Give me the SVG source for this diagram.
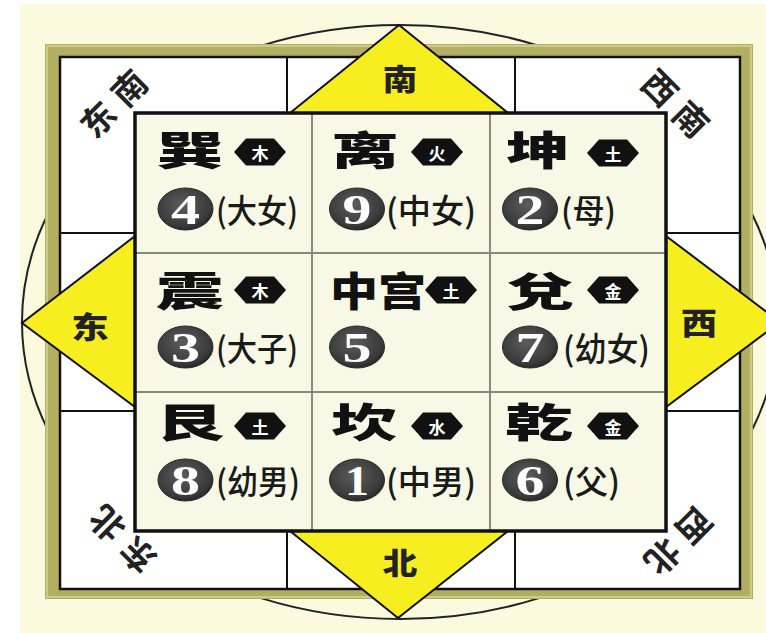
<svg xmlns="http://www.w3.org/2000/svg" width="766" height="633" viewBox="0 0 766 633">
<defs>
<style>
.big{font-family:"Noto Sans CJK SC","Noto Sans CJK JP",sans-serif;font-weight:900;font-size:40px;fill:#111}
.el{font-family:"Noto Sans CJK SC","Noto Sans CJK JP",sans-serif;font-weight:700;font-size:17px;fill:#fff;text-anchor:middle;dominant-baseline:central}
.num{font-family:"Liberation Serif",serif;font-weight:700;font-size:43px;fill:#fff;text-anchor:middle}
.rel{font-family:"Noto Sans CJK SC","Noto Sans CJK JP",sans-serif;font-weight:500;font-size:33px;fill:#1a1a1a}
.dir{font-family:"Noto Sans CJK SC","Noto Sans CJK JP",sans-serif;font-weight:900;font-size:30px;fill:#222;text-anchor:middle;dominant-baseline:central}
.corner{font-family:"Noto Sans CJK SC","Noto Sans CJK JP",sans-serif;font-weight:700;font-size:34px;fill:#222;text-anchor:middle;dominant-baseline:central}
.tri{fill:#f6ee1e;stroke:#111;stroke-width:2;stroke-linejoin:miter}
.ring{stroke:#111;stroke-width:2;fill:none}
.ball{fill:url(#ball);stroke:#2a2a2a;stroke-width:1}
</style>
<radialGradient id="ball" cx="0.45" cy="0.4" r="0.62">
<stop offset="0" stop-color="#5c5c5c"/>
<stop offset="0.8" stop-color="#3a3a3a"/>
<stop offset="1" stop-color="#252525"/>
</radialGradient>
<polygon id="hex" points="-26,0 -14,-13.5 14,-13.5 26,0 14,13.5 -14,13.5" fill="#111"/>
<ellipse id="ballShape" cx="0" cy="0" rx="27.5" ry="21" class="ball"/>
</defs>

<!-- background -->
<rect x="0" y="0" width="766" height="633" fill="#ffffff"/>
<rect x="20" y="4" width="746" height="629" fill="#fbfadf"/>

<!-- outer ellipse -->
<ellipse cx="400" cy="322" rx="378" ry="297" fill="none" stroke="#222" stroke-width="2"/>

<!-- frame -->
<g id="frame">
<rect x="45" y="44" width="708" height="555" fill="#b2af62"/>
<rect x="47" y="46" width="704" height="551" fill="none" stroke="#cdcb85" stroke-width="2"/>
<rect x="60" y="57" width="680" height="532" fill="#ffffff" stroke="#111" stroke-width="2.5"/>
</g>

<!-- ring dividers -->
<g id="connectors">
<line class="ring" x1="287" y1="57" x2="287" y2="113"/>
<line class="ring" x1="515" y1="57" x2="515" y2="113"/>
<line class="ring" x1="287" y1="531" x2="287" y2="589"/>
<line class="ring" x1="515" y1="531" x2="515" y2="589"/>
<line class="ring" x1="60" y1="233" x2="135" y2="233"/>
<line class="ring" x1="60" y1="411" x2="135" y2="411"/>
<line class="ring" x1="666" y1="233" x2="740" y2="233"/>
<line class="ring" x1="666" y1="411" x2="740" y2="411"/>
</g>

<!-- direction triangles -->
<g id="dir-south">
<polygon class="tri" points="290,113 399,25 508,113"/>
<text class="dir" transform="translate(400,77) scale(1.15,1)">南</text>
</g>
<g id="dir-east">
<polygon class="tri" points="135,236 22,323 135,407"/>
<text class="dir" transform="translate(90,325) scale(1.25,1)">东</text>
</g>
<g id="dir-west">
<polygon class="tri" points="666,236 780,322 666,407"/>
<text class="dir" transform="translate(699,321) scale(1.2,1)">西</text>
</g>
<g id="dir-north">
<polygon class="tri" points="290,531 398,618 508,531"/>
<text class="dir" transform="translate(400,561) scale(1.15,1)">北</text>
</g>

<!-- corner labels -->
<g id="corner-se"><text class="corner" transform="translate(112,102) rotate(-45)"><tspan x="-22" y="0">东</tspan><tspan x="22" y="0">南</tspan></text></g>
<g id="corner-sw"><text class="corner" transform="translate(677,102) rotate(45)"><tspan x="-22" y="0">西</tspan><tspan x="22" y="0">南</tspan></text></g>
<g id="corner-ne"><text class="corner" transform="translate(121,541) rotate(225)"><tspan x="-22" y="0">东</tspan><tspan x="22" y="0">北</tspan></text></g>
<g id="corner-nw"><text class="corner" transform="translate(680,543) rotate(135)"><tspan x="-22" y="0">西</tspan><tspan x="22" y="0">北</tspan></text></g>

<!-- grid -->
<g id="grid">
<rect x="135" y="113" width="531" height="418" fill="#f8f8e6"/>
<line x1="312" y1="113" x2="312" y2="531" stroke="#8a8a7c" stroke-width="2"/>
<line x1="490" y1="113" x2="490" y2="531" stroke="#8a8a7c" stroke-width="2"/>
<line x1="135" y1="253" x2="666" y2="253" stroke="#8a8a7c" stroke-width="2"/>
<line x1="135" y1="392" x2="666" y2="392" stroke="#8a8a7c" stroke-width="2"/>
<rect x="135" y="113" width="531" height="418" fill="none" stroke="#111" stroke-width="3.5"/>
</g>

<!-- row 1 -->
<g id="cell-xun">
<text class="big" x="156" y="165" textLength="68" lengthAdjust="spacingAndGlyphs">巽</text>
<use href="#hex" x="260" y="152"/><text class="el" x="260" y="152">木</text>
<use href="#ballShape" x="185.5" y="209"/><text class="num" x="185.5" y="224" textLength="29" lengthAdjust="spacingAndGlyphs">4</text>
<text class="rel" x="216" y="223" textLength="82" lengthAdjust="spacingAndGlyphs">(大女)</text>
</g>
<g id="cell-li">
<text class="big" x="331" y="165" textLength="68" lengthAdjust="spacingAndGlyphs">离</text>
<use href="#hex" x="437" y="152"/><text class="el" x="437" y="152">火</text>
<use href="#ballShape" x="357" y="209"/><text class="num" x="357" y="224" textLength="29" lengthAdjust="spacingAndGlyphs">9</text>
<text class="rel" x="386" y="223" textLength="90" lengthAdjust="spacingAndGlyphs">(中女)</text>
</g>
<g id="cell-kun">
<text class="big" x="506" y="165" textLength="64" lengthAdjust="spacingAndGlyphs">坤</text>
<use href="#hex" x="613" y="153"/><text class="el" x="613" y="153">土</text>
<use href="#ballShape" x="530" y="209"/><text class="num" x="530" y="224" textLength="29" lengthAdjust="spacingAndGlyphs">2</text>
<text class="rel" x="561" y="223" textLength="55" lengthAdjust="spacingAndGlyphs">(母)</text>
</g>

<!-- row 2 -->
<g id="cell-zhen">
<text class="big" x="156" y="306" textLength="68" lengthAdjust="spacingAndGlyphs">震</text>
<use href="#hex" x="260" y="290"/><text class="el" x="260" y="290">木</text>
<use href="#ballShape" x="185.5" y="347"/><text class="num" x="185.5" y="362" textLength="29" lengthAdjust="spacingAndGlyphs">3</text>
<text class="rel" x="216" y="361" textLength="82" lengthAdjust="spacingAndGlyphs">(大子)</text>
</g>
<g id="cell-center">
<text class="big" x="330" y="306" textLength="96" lengthAdjust="spacingAndGlyphs">中宫</text>
<use href="#hex" x="451" y="290"/><text class="el" x="451" y="290">土</text>
<use href="#ballShape" x="357" y="347"/><text class="num" x="357" y="362" textLength="29" lengthAdjust="spacingAndGlyphs">5</text>
</g>
<g id="cell-dui">
<text class="big" x="506" y="306" textLength="68" lengthAdjust="spacingAndGlyphs">兌</text>
<use href="#hex" x="613" y="290"/><text class="el" x="613" y="290">金</text>
<use href="#ballShape" x="530" y="347"/><text class="num" x="530" y="362" textLength="29" lengthAdjust="spacingAndGlyphs">7</text>
<text class="rel" x="563" y="361" textLength="87" lengthAdjust="spacingAndGlyphs">(幼女)</text>
</g>

<!-- row 3 -->
<g id="cell-gen">
<text class="big" x="156" y="437" textLength="68" lengthAdjust="spacingAndGlyphs">艮</text>
<use href="#hex" x="260" y="426"/><text class="el" x="260" y="426">土</text>
<use href="#ballShape" x="185.5" y="480"/><text class="num" x="185.5" y="495" textLength="29" lengthAdjust="spacingAndGlyphs">8</text>
<text class="rel" x="216" y="494" textLength="84" lengthAdjust="spacingAndGlyphs">(幼男)</text>
</g>
<g id="cell-kan">
<text class="big" x="331" y="437" textLength="66" lengthAdjust="spacingAndGlyphs">坎</text>
<use href="#hex" x="437" y="426"/><text class="el" x="437" y="426">水</text>
<use href="#ballShape" x="357" y="480"/><text class="num" x="357" y="495" textLength="24" lengthAdjust="spacingAndGlyphs">1</text>
<text class="rel" x="386" y="494" textLength="90" lengthAdjust="spacingAndGlyphs">(中男)</text>
</g>
<g id="cell-qian">
<text class="big" x="505" y="437" textLength="68" lengthAdjust="spacingAndGlyphs">乾</text>
<use href="#hex" x="613" y="426"/><text class="el" x="613" y="426">金</text>
<use href="#ballShape" x="530" y="480"/><text class="num" x="530" y="495" textLength="29" lengthAdjust="spacingAndGlyphs">6</text>
<text class="rel" x="563" y="494" textLength="57" lengthAdjust="spacingAndGlyphs">(父)</text>
</g>
</svg>
